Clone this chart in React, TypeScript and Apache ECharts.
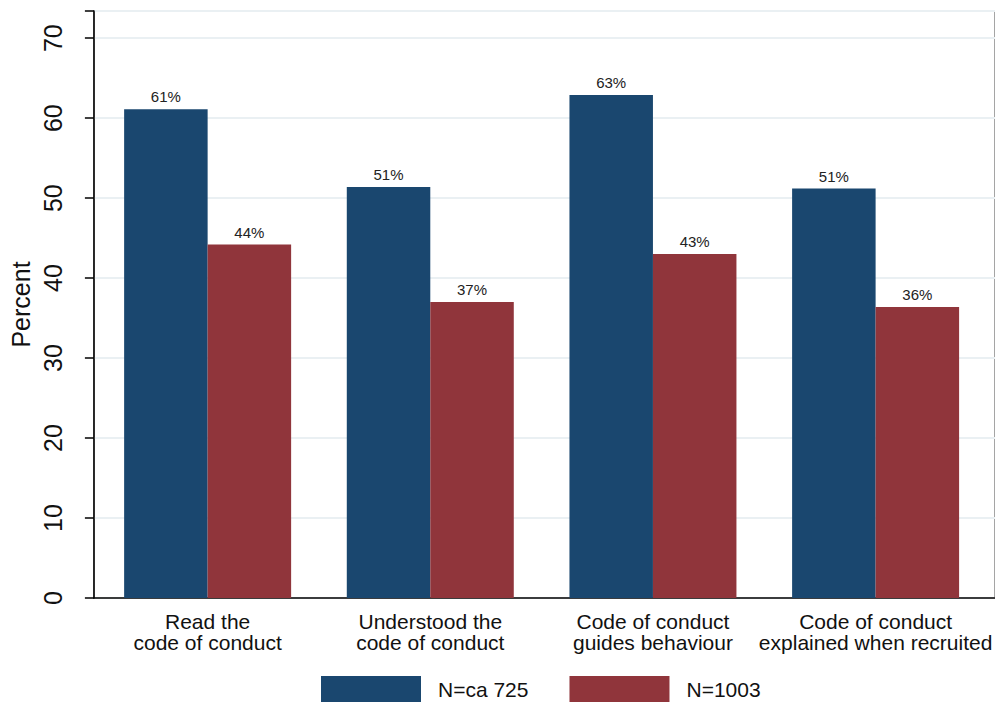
import React, { useEffect, useRef } from "react";
import * as echarts from "echarts";

const categories = [
  "Read the\ncode of conduct",
  "Understood the\ncode of conduct",
  "Code of conduct\nguides behaviour",
  "Code of conduct\nexplained when recruited",
];
const seriesNames = ["N=ca 725", "N=1003"];
const blueValues = [61.1, 51.4, 62.9, 51.2];
const redValues = [44.2, 37.0, 43.0, 36.4];
const yTicks = [0, 10, 20, 30, 40, 50, 60, 70];

const FONT = "Liberation Sans, Arial, sans-serif";
const BLUE = "#1a476f";
const RED = "#90353b";

export default function App() {
  const ref = useRef<HTMLDivElement>(null);
  useEffect(() => {
    if (!ref.current) return;
    const chart = echarts.init(ref.current, undefined, { renderer: "svg" });
    const yMax = 73.4;
    const label = {
      show: true,
      position: "top" as const,
      distance: 5,
      fontFamily: FONT,
      fontSize: 15,
      color: "#222",
      formatter: (p: any) => Math.round(p.value) + "%",
    };
    chart.setOption({
      animation: false,
      backgroundColor: "#fff",
      grid: [
        { left: 82, right: -10, top: 11, bottom: 104, show: true, borderColor: "#888", borderWidth: 1.5, backgroundColor: "transparent" },
        { left: 96.3, right: 5.3, top: 11, bottom: 104 },
      ],
      xAxis: [
        {
          type: "value", gridIndex: 0, min: 0, max: 1,
          axisLine: { show: true, onZero: false, lineStyle: { color: "#000", width: 1.5 } },
          axisTick: { show: false }, axisLabel: { show: false }, splitLine: { show: false },
        },
        {
          type: "category", gridIndex: 1, data: categories,
          axisLine: { show: false }, axisTick: { show: false },
          axisLabel: { fontFamily: FONT, fontSize: 21, color: "#111", lineHeight: 21, margin: 13, interval: 0 },
        },
      ],
      yAxis: [
        {
          type: "value", gridIndex: 0, min: 0, max: yMax, interval: 10,
          name: "Percent", nameLocation: "middle", nameGap: 60, nameRotate: 90,
          nameTextStyle: { fontFamily: FONT, fontSize: 25, color: "#111" },
          axisLine: { show: true, lineStyle: { color: "#000", width: 1.5 } },
          axisTick: { show: true, length: 9, lineStyle: { color: "#000", width: 1.5 } },
          axisLabel: {
            rotate: 90, fontFamily: FONT, fontSize: 25, color: "#111", margin: 28,
            formatter: (v: number) => (yTicks.includes(v) ? String(v) : ""),
          },
          splitLine: { show: true, lineStyle: { color: "#eaf0f3", width: 2 } },
        },
        {
          type: "value", gridIndex: 1, min: 0, max: yMax, interval: 10,
          axisLine: { show: false }, axisTick: { show: false }, axisLabel: { show: false }, splitLine: { show: false },
        },
      ],
      legend: {
        left: 321, top: 676, padding: 0, itemWidth: 100, itemHeight: 26, itemGap: 41,
        icon: "rect",
        textStyle: { fontFamily: FONT, fontSize: 21, lineHeight: 21, color: "#111", padding: [0, 0, 0, 12] },
        data: seriesNames,
      },
      series: [
        {
          name: seriesNames[0], type: "bar", xAxisIndex: 1, yAxisIndex: 1, data: blueValues,
          itemStyle: { color: BLUE }, barGap: "0%", barCategoryGap: "25%", label,
        },
        {
          name: seriesNames[1], type: "bar", xAxisIndex: 1, yAxisIndex: 1, data: redValues,
          itemStyle: { color: RED }, barGap: "0%", barCategoryGap: "25%", label,
        },
      ],
    });
    return () => chart.dispose();
  }, []);
  return <div ref={ref} style={{ width: 995, height: 702, position: "absolute", left: 0, top: 0 }} />;
}
